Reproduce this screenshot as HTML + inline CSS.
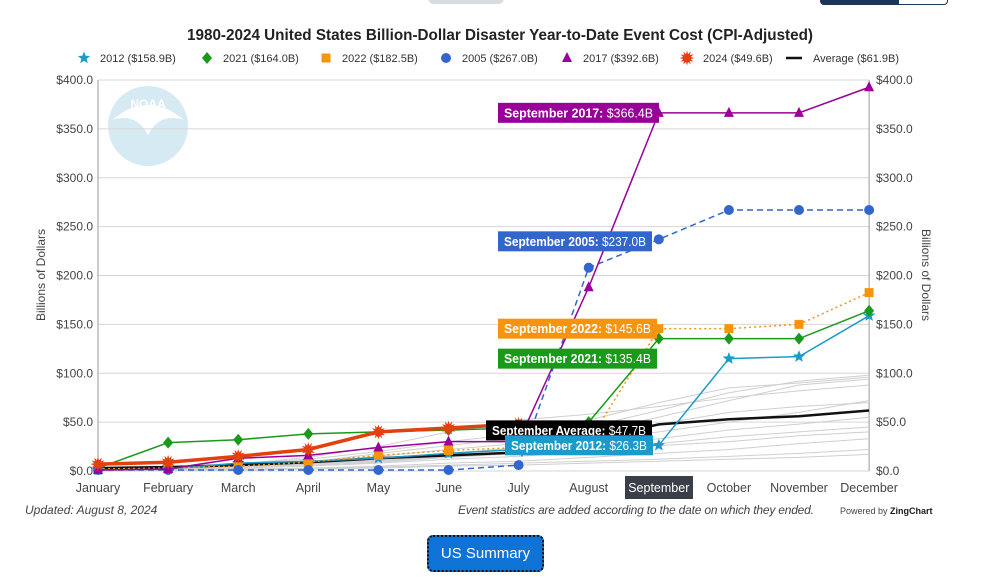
<!DOCTYPE html>
<html><head><meta charset="utf-8"><style>
body{margin:0;width:1000px;height:579px;background:#fff;font-family:"Liberation Sans",sans-serif;overflow:hidden;position:relative}
.abs{position:absolute}
</style></head><body>
<div class="abs" style="left:428px;top:-10px;width:76px;height:14px;background:#d9dcdf;border-radius:6px"></div>
<div class="abs" style="left:820px;top:-10px;width:126px;height:13px;border:1px solid #1d3557;border-radius:4px;background:linear-gradient(90deg,#1d3557 62%,#fff 62%)"></div>
<svg id="chart" class="abs" style="left:0;top:0" width="1000" height="579"></svg>
<div class="abs" style="left:25px;top:503px;font-size:12px;font-style:italic;color:#444">Updated: August 8, 2024</div>
<div class="abs" style="left:458px;top:503px;font-size:12px;font-style:italic;color:#444;letter-spacing:-0.2px">Event statistics are added according to the date on which they ended.</div>
<div class="abs" style="left:840px;top:506px;font-size:9px;color:#444">Powered by <b style="color:#1a1a1a">ZingChart</b></div>
<div class="abs" style="left:427px;top:535px;width:113px;height:33px;background:#0f72d6;border:2px dotted #111;border-radius:6px;color:#fff;font-size:15px;text-align:center;line-height:33px">US Summary</div>
<script>
const months=["January","February","March","April","May","June","July","August","September","October","November","December"];
const yTicks=[0,50,100,150,200,250,300,350,400];
const y2012=[1,2,8,10,13,18,22,25,26.3,115,117,158.9];
const y2021=[3,29,32,38,40,42,44,50,135.4,135.4,135.4,164.0];
const y2022=[2,3,5,9,16,21,24,30,145.6,145.6,150,182.5];
const y2005=[1,1,1,1,1,1,6,208,237.0,267,267,267.0];
const y2017=[1,2,13,16,24,30,30,188,366.4,366.4,366.4,392.6];
const y2024=[7,9,15,22,40,44,48];
const yAvg=[3,4,6,9,13,16,19,32,47.7,53,56,61.9];
const grayA=[2,4,8,12,20,30,38,45,62,80,92,98];
const grayB=[1,3,6,10,15,22,28,40,55,72,88,94];
const grayC=[0.5,2,4,7,12,18,24,30,40,50,60,72];
const grayD=[0.5,1,3,5,8,12,15,20,28,35,40,45];
const grayE=[0,1,2,3,5,8,10,14,18,22,28,33];
const grayF=[1,2,5,9,18,26,34,52,70,85,90,96];
const grayG=[0,1,1,2,4,6,8,10,12,15,18,22];
const grayH=[0.5,2,5,8,11,15,20,26,33,42,48,55];
const grayI=[1,3,5,7,10,14,18,22,26,30,36,40];
const grayJ=[0,0.5,1,2,3,5,6,8,10,12,14,17];
const grayK=[1,3,7,14,25,40,52,58,66,75,82,88];
const grayL=[0.5,2,4,6,9,14,20,34,48,60,66,70];
const grays=[grayA,grayB,grayC,grayD,grayE,grayF,grayG,grayH,grayI,grayJ,grayK,grayL];
const svg=document.getElementById('chart');const NS='http://www.w3.org/2000/svg';
const X0=98,DX=70.1,Y0=471,SC=391/400;
const xs=i=>X0+i*DX, ys=v=>Y0-v*SC;
function mk(t,a,p){const e=document.createElementNS(NS,t);for(const k in a)e.setAttribute(k,a[k]);(p||svg).appendChild(e);return e;}
function tx(x,y,s,a,p){const e=mk('text',Object.assign({x:x,y:y,'font-family':'Liberation Sans, sans-serif'},a),p);e.textContent=s;return e;}
const logo=mk('g',{});


mk('circle',{cx:148,cy:126,r:40,fill:'#d6eaf4'},logo);
mk('path',{d:'M112,120 Q148,90 184,120 Q160,112 148,135 Q136,112 112,120Z',fill:'#fff'},logo);
tx(148,108,'NOAA',{'text-anchor':'middle','font-size':12,'font-weight':'bold',fill:'#fff'},logo);
const tt=tx(500,40,'1980-2024 United States Billion-Dollar Disaster Year-to-Date Event Cost (CPI-Adjusted)',{'text-anchor':'middle','font-size':16,'font-weight':'bold',fill:'#222',textLength:626,lengthAdjust:'spacingAndGlyphs'});


yTicks.forEach(v=>{const y=ys(v);
const g=mk('line',{x1:X0,x2:xs(11),y1:y,y2:y,stroke:'#d6d6d6','stroke-width':1});


const l=tx(93,y+4,'$'+v.toFixed(1),{'text-anchor':'end','font-size':12,fill:'#444'});


const r=tx(876,y+4,'$'+v.toFixed(1),{'font-size':12,fill:'#444'});


});
mk('line',{x1:X0,x2:X0,y1:ys(400),y2:Y0,stroke:'#999'});
mk('line',{x1:xs(11),x2:xs(11),y1:ys(400),y2:Y0,stroke:'#999'});
mk('rect',{x:625,y:476,width:68,height:23,fill:'#3a3f47'});
months.forEach((m,i)=>{const t=tx(xs(i),492,m,{'text-anchor':'middle','font-size':12.5,fill:i==8?'#fff':'#444'});

});
const yl=tx(0,0,'Billions of Dollars',{'text-anchor':'middle','font-size':12,fill:'#444',transform:'translate(45,275) rotate(-90)'});


const yr=tx(0,0,'Billions of Dollars',{'text-anchor':'middle','font-size':12,fill:'#444',transform:'translate(922,275) rotate(90)'});


function pts(a){return a.map((v,i)=>xs(i)+','+ys(v)).join(' ');}
grays.forEach(a=>{const p=mk('polyline',{points:pts(a),fill:'none',stroke:'#cfcfcf','stroke-width':1});

});
function marker(shape,x,y,c,g){
if(shape=='circle')mk('circle',{cx:x,cy:y,r:5,fill:c},g);
else if(shape=='diamond')mk('polygon',{points:`${x},${y-6} ${x+5},${y} ${x},${y+6} ${x-5},${y}`,fill:c},g);
else if(shape=='square')mk('rect',{x:x-4.5,y:y-4.5,width:9,height:9,fill:c},g);
else if(shape=='tri')mk('polygon',{points:`${x},${y-6} ${x+5},${y+4} ${x-5},${y+4}`,fill:c},g);
else if(shape=='star'){let s='';for(let k=0;k<10;k++){const r=k%2?2.8:6.5,a=-Math.PI/2+k*Math.PI/5;s+=(x+r*Math.cos(a))+','+(y+r*Math.sin(a))+' ';}mk('polygon',{points:s,fill:c},g);}
else if(shape=='burst'){let s='';for(let k=0;k<24;k++){const r=k%2?4:7.5,a=k*Math.PI/12;s+=(x+r*Math.cos(a))+','+(y+r*Math.sin(a))+' ';}mk('polygon',{points:s,fill:c},g);}
}
const series=[
{d:yAvg,c:'#111',w:2.5,sh:null,dash:'',n:'series-average'},
{d:y2012,c:'#1a9bc9',w:1.5,sh:'star',dash:'',n:'series-2012'},
{d:y2022,c:'#f7940e',w:1.5,sh:'square',dash:'2,3',n:'series-2022'},
{d:y2021,c:'#1a9a1a',w:1.5,sh:'diamond',dash:'',n:'series-2021'},
{d:y2005,c:'#3366cc',w:1.5,sh:'circle',dash:'6,4',n:'series-2005'},
{d:y2017,c:'#990099',w:1.5,sh:'tri',dash:'',n:'series-2017'},
{d:y2024,c:'#e2400f',w:3.5,sh:'burst',dash:'',n:'series-2024'}];
series.forEach(s=>{const g=mk('g',{});


mk('polyline',{points:pts(s.d),fill:'none',stroke:s.c,'stroke-width':s.w,'stroke-dasharray':s.dash},g);
if(s.sh)s.d.forEach((v,i)=>marker(s.sh,xs(i),ys(v),s.c,g));});
const callouts=[
{lab:'September 2017:',val:366.4,c:'#990099',x:498,w:161,dy:0},
{lab:'September 2005:',val:237.0,c:'#3366cc',x:498,w:154,dy:2},
{lab:'September 2022:',val:145.6,c:'#f7940e',x:498,w:159,dy:0},
{lab:'September 2021:',val:135.4,c:'#1a9a1a',x:498,w:159,dy:20},
{lab:'September Average:',val:47.7,c:'#000',x:486,w:166,dy:6},
{lab:'September 2012:',val:26.3,c:'#1a9bc9',x:505,w:148,dy:0}];
callouts.forEach(o=>{const g=mk('g',{});


const cy=ys(o.val)+o.dy;
mk('rect',{x:o.x,y:cy-10,width:o.w,height:20,fill:o.c},g);
const t=tx(o.x+6,cy+4.5,'',{'font-size':12.5,fill:'#fff',textLength:o.w-12,lengthAdjust:'spacingAndGlyphs'},g);
const b=document.createElementNS(NS,'tspan');b.setAttribute('font-weight','bold');b.textContent=o.lab+' ';t.appendChild(b);
const v=document.createElementNS(NS,'tspan');v.textContent='$'+o.val.toFixed(1)+'B';t.appendChild(v);});
const leg=[['star','#1a9bc9','2012 ($158.9B)',80],['diamond','#1a9a1a','2021 ($164.0B)',203],['square','#f7940e','2022 ($182.5B)',322],['circle','#3366cc','2005 ($267.0B)',442],['tri','#990099','2017 ($392.6B)',563],['burst','#e2400f','2024 ($49.6B)',683],['line','#111','Average ($61.9B)',793]];
leg.forEach(l=>{const g=mk('g',{});


if(l[0]=='line')mk('line',{x1:l[3]-7,x2:l[3]+9,y1:58,y2:58,stroke:l[1],'stroke-width':2.5},g);else marker(l[0],l[3]+4,58,l[1],g);
tx(l[3]+20,62,l[2],{'font-size':11,fill:'#333'},g);});
</script>
</body></html>
